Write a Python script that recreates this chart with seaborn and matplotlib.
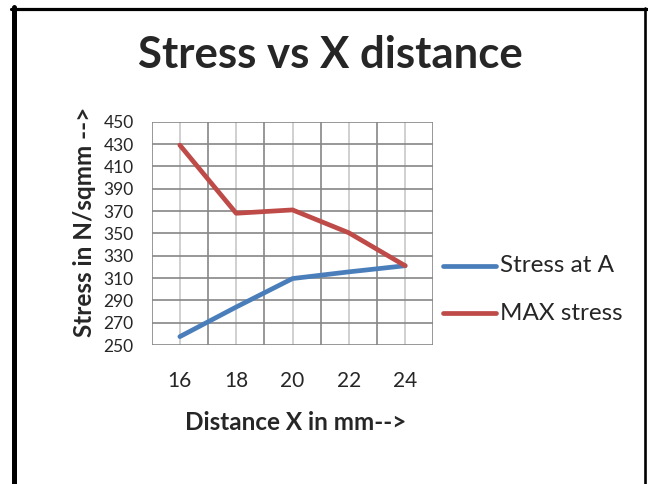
import pandas as pd
import matplotlib.pyplot as plt
import seaborn as sns
from matplotlib.lines import Line2D

distance = ['16', '18', '20', '22', '24']
stress_a = [257.5, 284, 309.5, 315.5, 321]
max_stress = [429, 368, 371, 350.5, 321]
y_ticks = [250, 270, 290, 310, 330, 350, 370, 390, 410, 430, 450]

df = pd.DataFrame({
    'distance': distance * 2,
    'stress': stress_a + max_stress,
    'series': ['Stress at A'] * 5 + ['MAX stress'] * 5,
})
colors = {'Stress at A': '#4A7EBB', 'MAX stress': '#BE4B48'}

sns.set_theme(style="white")
plt.rcParams['font.family'] = ['Lato', 'DejaVu Sans']

W, H = 648, 484
fig = plt.figure(figsize=(W / 100, H / 100), dpi=100)
ax = fig.add_axes([151.7 / W, 1 - 345 / H, 281.6 / W, 223.3 / H])

sns.lineplot(data=df, x='distance', y='stress', hue='series', palette=colors,
             linewidth=3.4, ax=ax, legend=False, solid_capstyle='round')

ax.set_xlim(-0.5, 4.5)
ax.set_ylim(250, 450)
ax.set_yticks(y_ticks)
ax.set_xticks(range(5))
ax.set_xticklabels(distance)

# dark lines at category edges and value ticks, light lines at category centres
for xm in [i + 0.5 for i in range(-1, 5)]:
    ax.axvline(xm, color='#868686', lw=1.2, zorder=0)
for xc in range(5):
    ax.axvline(xc, color='#c8c8c8', lw=1.2, zorder=0)
for yv in y_ticks:
    ax.axhline(yv, color='#868686', lw=1.2, zorder=0)

for s in ax.spines.values():
    s.set_visible(False)
ax.tick_params(axis='y', length=3, color='#868686', width=1.2, pad=10, labelsize=12.5)
ax.tick_params(axis='x', length=0, pad=19, labelsize=15)
ax.set_xlabel('')
ax.set_ylabel('')

fig.text(84 / W, 1 - 222 / H, 'Stress in N/sqmm -->', rotation=90, ha='center', va='center',
         fontsize=17.5, fontweight='bold')
fig.text(296 / W, 1 - 430 / H, 'Distance X in mm-->', ha='center', va='baseline',
         fontsize=17.5, fontweight='bold')
fig.text(330 / W, 1 - 68 / H, 'Stress vs X distance', ha='center', va='baseline',
         fontsize=31.5, fontweight='bold')

# legend
for label, ypx in [('Stress at A', 265.5), ('MAX stress', 313)]:
    yf = 1 - ypx / H
    fig.lines.append(Line2D([443 / W, 496 / W], [yf, yf], transform=fig.transFigure,
                            color=colors[label], lw=3.4, solid_capstyle='round'))
    fig.text(500 / W, yf, label, ha='left', va='center', fontsize=17.5)

# slide frame (left, top, right edges)
fig.lines.append(Line2D([13.5 / W, 13.5 / W], [0, 1 - 7 / H], transform=fig.transFigure,
                        color='black', lw=3.6))
fig.lines.append(Line2D([11 / W, 647 / W], [1 - 8.7 / H, 1 - 8.7 / H],
                        transform=fig.transFigure, color='black', lw=2.3))
fig.lines.append(Line2D([645.3 / W, 645.3 / W], [0, 1 - 7.5 / H], transform=fig.transFigure,
                        color='black', lw=1.9))

fig.savefig('out.png', dpi=100, facecolor='white')
